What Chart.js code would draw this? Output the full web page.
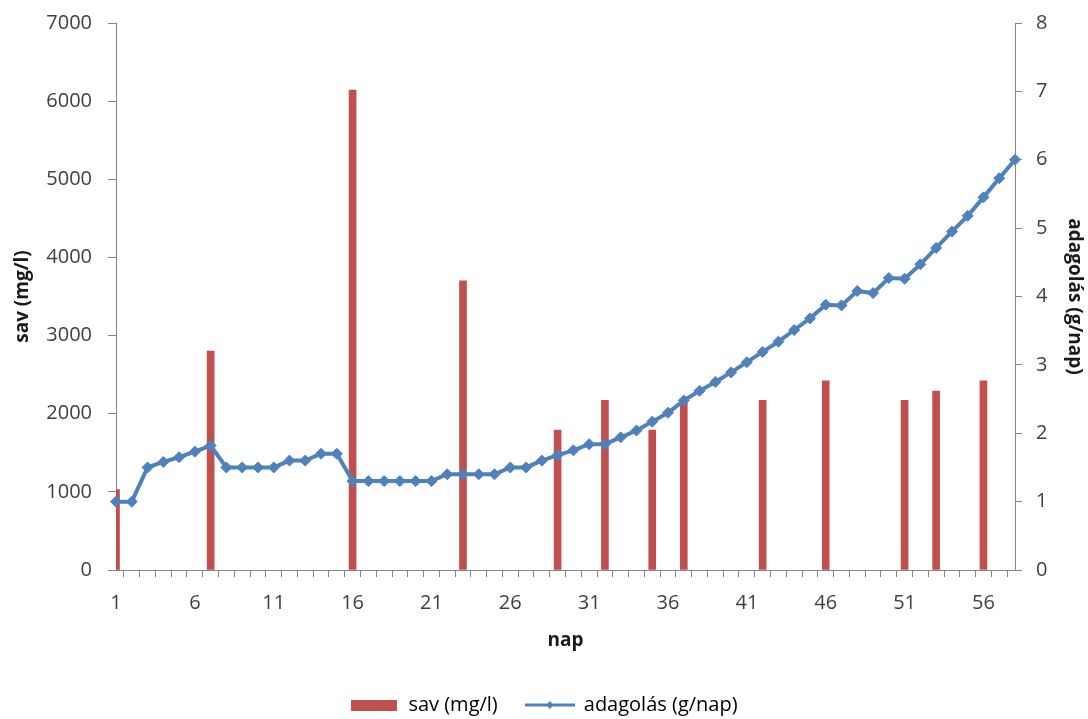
<!DOCTYPE html>
<html>
<head>
<meta charset="utf-8">
<script src="https://cdn.jsdelivr.net/npm/chart.js@4.4.1/dist/chart.umd.min.js"></script>
<style>
  html, body { margin: 0; padding: 0; background: #ffffff; }
  #wrap { width: 1088px; height: 719px; position: relative; }
</style>
</head>
<body>
<div id="wrap"><canvas id="chart"></canvas></div>
<script>
// Napok (kategóriák)
const days = [
  '1','2','3','4','5','6','7','8','9','10',
  '11','12','13','14','15','16','17','18','19','20',
  '21','22','23','24','25','26','27','28','29','30',
  '31','32','33','34','35','36','37','38','39','40',
  '41','42','43','44','45','46','47','48','49','50',
  '51','52','53','54','55','56','57','58'
];

// Sav koncentráció (mg/l) – csak a mérési napokon
const savMgL = [
  1030, null, null, null, null, null, 2800, null, null, null,
  null, null, null, null, null, 6140, null, null, null, null,
  null, null, 3700, null, null, null, null, null, 1790, null,
  null, 2170, null, null, 1790, null, 2170, null, null, null,
  null, 2170, null, null, null, 2420, null, null, null, null,
  2170, null, 2290, null, null, 2420, null, null
];

// Adagolás (g/nap)
const adagolas = [
  1.0, 1.0, 1.5, 1.58, 1.65, 1.73, 1.82, 1.5, 1.5, 1.5,
  1.5, 1.6, 1.6, 1.7, 1.7, 1.3, 1.3, 1.3, 1.3, 1.3,
  1.3, 1.4, 1.4, 1.4, 1.4, 1.5, 1.5, 1.6, 1.68, 1.75,
  1.84, 1.84, 1.94, 2.04, 2.17, 2.3, 2.48, 2.62, 2.75, 2.89,
  3.04, 3.19, 3.34, 3.51, 3.68, 3.88, 3.87, 4.08, 4.05, 4.27,
  4.26, 4.47, 4.71, 4.95, 5.18, 5.45, 5.73, 6.0
];

const leftTicks = [0, 1000, 2000, 3000, 4000, 5000, 6000, 7000];
const rightTicks = [0, 1, 2, 3, 4, 5, 6, 7, 8];

const RED = '#C0504D';
const BLUE = '#4F81BD';
const AXIS = '#868686';
const TEXT = '#404040';
const FONT = "'Open Sans', 'Liberation Sans', sans-serif";

// Legend swatches drawn on small canvases
function barSwatch() {
  const c = document.createElement('canvas');
  c.width = 46; c.height = 11;
  const g = c.getContext('2d');
  g.fillStyle = RED;
  g.fillRect(0, 0, 46, 11);
  return c;
}
function lineSwatch() {
  const c = document.createElement('canvas');
  c.width = 50; c.height = 11;
  const g = c.getContext('2d');
  g.strokeStyle = BLUE;
  g.lineWidth = 3;
  g.beginPath(); g.moveTo(0, 5.5); g.lineTo(50, 5.5); g.stroke();
  g.fillStyle = BLUE;
  g.beginPath();
  g.moveTo(25, 1.5); g.lineTo(29, 5.5); g.lineTo(25, 9.5); g.lineTo(21, 5.5);
  g.closePath(); g.fill();
  return c;
}

// Fixed axis box sizes so the plot area sits where the layout needs it
function fixVertical(width) {
  return (scale) => {
    scale.width = width;
    scale.paddingTop = 0;
    scale.paddingBottom = 0;
  };
}

Chart.defaults.font.family = FONT;
Chart.defaults.color = TEXT;

new Chart(document.getElementById('chart'), {
  data: {
    labels: days,
    datasets: [
      {
        type: 'bar',
        label: 'sav (mg/l)',
        data: savMgL,
        yAxisID: 'y',
        backgroundColor: RED,
        barThickness: 7,
        order: 2
      },
      {
        type: 'line',
        label: 'adagolás (g/nap)',
        data: adagolas,
        yAxisID: 'y1',
        borderColor: BLUE,
        backgroundColor: BLUE,
        borderWidth: 4,
        pointStyle: 'rectRot',
        pointRadius: 5.5,
        pointBorderWidth: 1,
        pointBackgroundColor: BLUE,
        pointBorderColor: BLUE,
        tension: 0,
        clip: false,
        order: 1
      }
    ]
  },
  options: {
    responsive: true,
    maintainAspectRatio: false,
    animation: false,
    layout: { padding: { top: 23, left: 0, right: 0, bottom: -6 } },
    plugins: {
      tooltip: { enabled: false },
      legend: {
        position: 'bottom',
        labels: {
          usePointStyle: true,
          pointStyleWidth: 48,
          padding: 28,
          color: TEXT,
          font: { size: 20, family: FONT },
          generateLabels: (chart) => [
            { text: 'sav (mg/l)', pointStyle: barSwatch(), fillStyle: RED, strokeStyle: RED, lineWidth: 0, datasetIndex: 0, hidden: false },
            { text: 'adagolás (g/nap)', pointStyle: lineSwatch(), fillStyle: BLUE, strokeStyle: BLUE, lineWidth: 0, datasetIndex: 1, hidden: false }
          ]
        }
      }
    },
    scales: {
      x: {
        type: 'category',
        offset: false,
        grid: { display: true, drawOnChartArea: false, drawTicks: true, tickLength: 7, color: AXIS },
        border: { display: true, color: AXIS, width: 1 },
        ticks: {
          autoSkip: false,
          maxRotation: 0,
          padding: 14,
          color: TEXT,
          font: { size: 20 },
          callback: (value, index) => (index % 5 === 0 ? days[index] : '')
        },
        title: {
          display: true,
          text: 'nap',
          color: '#1a1a1a',
          font: { size: 19, weight: 'bold' },
          padding: { top: 0, bottom: 15 }
        },
        afterFit: (scale) => { scale.height = 97; }
      },
      y: {
        type: 'linear',
        position: 'left',
        min: 0,
        max: 7000,
        grid: { display: true, drawOnChartArea: false, drawTicks: true, tickLength: 8, color: AXIS },
        border: { display: true, color: AXIS, width: 1 },
        afterBuildTicks: (scale) => { scale.ticks = leftTicks.map(v => ({ value: v })); },
        ticks: { padding: 16, color: TEXT, font: { size: 20 }, callback: (v) => String(v) },
        title: {
          display: true,
          text: 'sav (mg/l)',
          color: '#1a1a1a',
          font: { size: 19, weight: 'bold' },
          padding: { top: 11, bottom: 0 }
        },
        afterFit: fixVertical(116)
      },
      y1: {
        type: 'linear',
        position: 'right',
        min: 0,
        max: 8,
        grid: { display: true, drawOnChartArea: false, drawTicks: true, tickLength: 7, color: AXIS },
        border: { display: true, color: AXIS, width: 1 },
        afterBuildTicks: (scale) => { scale.ticks = rightTicks.map(v => ({ value: v })); },
        ticks: { padding: 14, color: TEXT, font: { size: 20 }, callback: (v) => String(v) },
        title: {
          display: true,
          text: 'adagolás (g/nap)',
          color: '#1a1a1a',
          font: { size: 19, weight: 'bold' },
          padding: { top: 2, bottom: 0 }
        },
        afterFit: fixVertical(73)
      }
    }
  }
});
</script>
</body>
</html>
